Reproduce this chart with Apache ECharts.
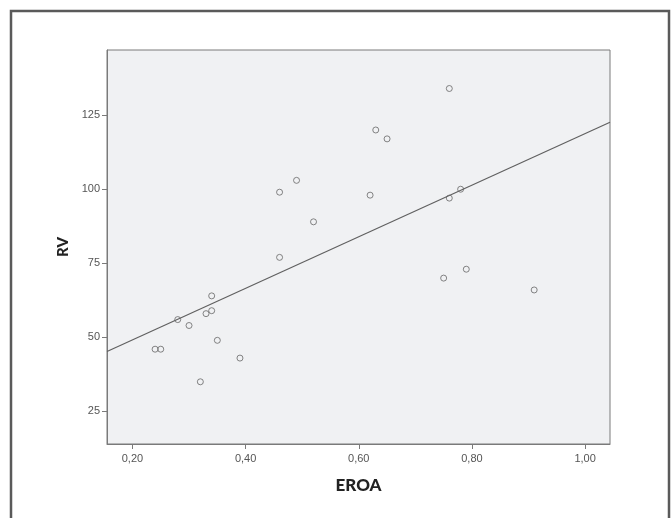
<!DOCTYPE html>
<html>
<head>
<meta charset="utf-8">
<script src="https://cdn.jsdelivr.net/npm/echarts@6/dist/echarts.min.js"></script>
<style>
  html, body { margin: 0; padding: 0; background: #fff; }
  #main { width: 672px; height: 518px; }
</style>
</head>
<body>
<div id="main"></div>
<script>
// EROA vs RV
var eroa = [0.24, 0.25, 0.28, 0.30, 0.32, 0.33, 0.34, 0.34, 0.35, 0.39, 0.46, 0.46,
            0.49, 0.52, 0.62, 0.63, 0.65, 0.75, 0.76, 0.76, 0.78, 0.79, 0.91];
var rv   = [46, 46, 56, 54, 35, 58, 59, 64, 49, 43, 99, 77,
            103, 89, 98, 120, 117, 70, 134, 97, 100, 73, 66];
// fit line ends (at the axis edges)
var fitLine = [[0.155, 45.2], [1.044, 122.6]];
var xTicks = [0.2, 0.4, 0.6, 0.8, 1.0];
var yTicks = [25, 50, 75, 100, 125];

var points = [];
for (var i = 0; i < eroa.length; i++) {
    points.push([eroa[i], rv[i]]);
}

var myChart = echarts.init(document.getElementById('main'));

function comma(v) {
    return v.toFixed(2).replace('.', ',');
}

var option = {
    backgroundColor: '#fff',
    animation: false,
    grid: {
        show: true,
        left: 107,
        top: 50,
        right: 62,
        bottom: 74,
        containLabel: false,
        backgroundColor: '#f0f1f3',
        borderColor: '#7a7a7a',
        borderWidth: 1
    },
    graphic: [{
        type: 'rect',
        shape: {x: 11, y: 11, width: 658, height: 530},
        style: {fill: 'none', stroke: '#5a5a5a', lineWidth: 2.5},
        silent: true
    }],
    xAxis: {
        type: 'value',
        min: 0.155,
        max: 1.044,
        name: 'EROA',
        nameLocation: 'middle',
        nameGap: 33,
        nameTextStyle: {fontFamily: 'Lato', fontWeight: 900, fontSize: 17, color: '#222'},
        axisLine: {show: true, lineStyle: {color: '#7a7a7a', width: 1}},
        axisTick: {show: true, inside: false, length: 5, customValues: xTicks,
                   lineStyle: {color: '#7a7a7a'}},
        axisLabel: {customValues: xTicks, formatter: comma, margin: 9,
                    fontFamily: 'Liberation Sans', fontSize: 11, color: '#555'},
        splitLine: {show: false}
    },
    yAxis: {
        type: 'value',
        min: 14,
        max: 147,
        name: 'RV',
        nameLocation: 'middle',
        nameRotate: 90,
        nameGap: 19,
        nameTextStyle: {fontFamily: 'Lato', fontWeight: 900, fontSize: 15, color: '#222'},
        axisLine: {show: true, lineStyle: {color: '#7a7a7a', width: 1}},
        axisTick: {show: true, inside: false, length: 5, customValues: yTicks,
                   lineStyle: {color: '#7a7a7a'}},
        axisLabel: {customValues: yTicks, margin: 7,
                    fontFamily: 'Liberation Sans', fontSize: 11, color: '#555'},
        splitLine: {show: false}
    },
    series: [
        {
            type: 'line',
            data: fitLine,
            symbol: 'none',
            lineStyle: {color: '#606060', width: 1.2},
            z: 2
        },
        {
            type: 'scatter',
            data: points,
            symbol: 'circle',
            symbolSize: 6,
            itemStyle: {color: 'rgba(0,0,0,0)', borderColor: '#666', borderWidth: 1},
            z: 3
        }
    ]
};

myChart.setOption(option);
</script>
</body>
</html>
